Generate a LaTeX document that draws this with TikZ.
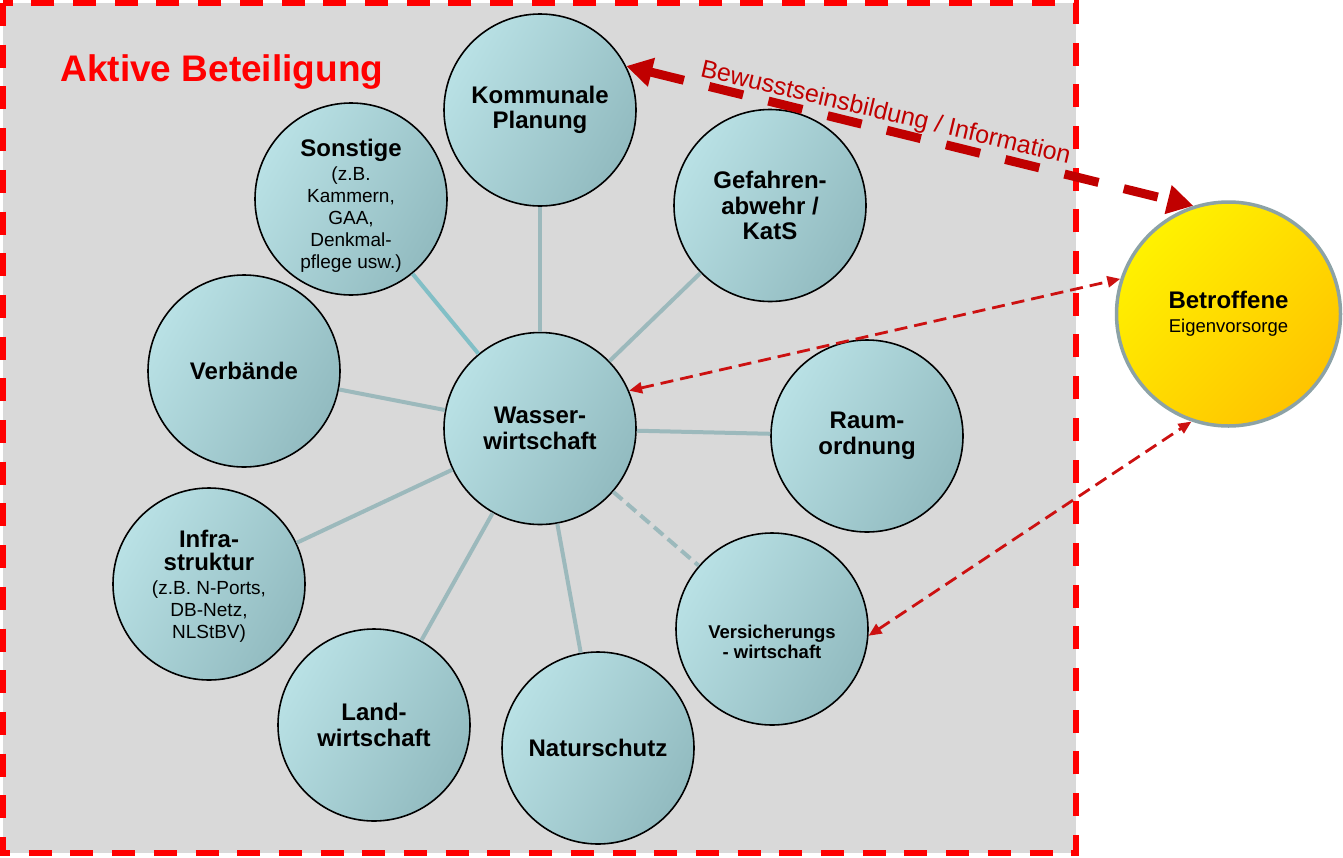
\documentclass[tikz,border=0pt]{standalone}
\usepackage{fontspec}
\setmainfont{Liberation Sans}
\usetikzlibrary{arrows.meta}
\definecolor{bggray}{HTML}{D9D9D9}
\definecolor{cyanL}{HTML}{B9E1E5}
\definecolor{cyanD}{HTML}{92BBC0}
\definecolor{conn}{HTML}{9CB9BC}
\definecolor{connT}{HTML}{82BFC6}
\definecolor{darkred}{HTML}{C00000}
\definecolor{thinred}{HTML}{CC1111}
\definecolor{yelL}{HTML}{FFF200}
\definecolor{yelD}{HTML}{FFC400}
\definecolor{ringgray}{HTML}{8CA2A6}
\definecolor{borderred}{HTML}{FF0000}
\newcommand{\smtxt}{\fontsize{19}{22}\selectfont\mdseries}
\newcommand{\bftxt}{\fontsize{24}{25.5}\selectfont\bfseries}
\begin{document}
\begin{tikzpicture}[x=1pt,y=-1pt,
  blob/.style={circle, draw=black, line width=1.6pt, minimum size=192pt, inner sep=0pt,
    align=center, left color=cyanL, right color=cyanD, shading angle=60, font=\bftxt},
  mixtext/.style={align=center, font=\smtxt},
  link/.style={draw=conn, line width=4pt},
  bigarrow/.style={draw=darkred, line width=9pt, dash pattern=on 35pt off 26pt,
    {Triangle[length=26pt,width=28pt]}-{Triangle[length=26pt,width=28pt]}},
  thinarrow/.style={draw=thinred, line width=2.8pt, dash pattern=on 13pt off 7pt,
    {Triangle[length=13pt,width=11pt]}-{Triangle[length=13pt,width=11pt]}}]
\useasboundingbox (0,0) rectangle (1343,857);
\fill[bggray] (3,3) rectangle (1076,853);
\draw[borderred, line width=6pt, dash pattern=on 23pt off 18.7pt] (3,3) rectangle (1076,853);

\node[anchor=base west, text=borderred, font=\fontsize{37}{37}\selectfont\bfseries] (title) at (57,81) {Aktive Beteiligung};

\node[blob] (w) at (540,428.5) {Wasser-\\wirtschaft};
\node[blob] (k) at (540,110) {Kommunale\\Planung};
\node[blob] (s) at (351,199) {};
\node[mixtext] (st) at (351,206) {{\bftxt Sonstige}\\[2pt](z.B.\\Kammern,\\GAA,\\Denkmal-\\pflege usw.)};
\node[blob] (g) at (770,205.5) {Gefahren-\\abwehr /\\KatS};
\node[blob] (vb) at (244,371) {Verbände};
\node[blob] (r) at (867,436) {Raum-\\ordnung};
\node[blob] (i) at (209,584) {};
\node[mixtext] (it) at (209,586) {{\bftxt Infra-}\\[1pt]{\bftxt struktur}\\[2pt](z.B. N-Ports,\\DB-Netz,\\NLStBV)};
\node[blob] (l) at (374,725) {Land-\\wirtschaft};
\node[blob] (n) at (598,748) {Naturschutz};
\node[blob] (v) at (772,629) {};
\node[align=center, font=\fontsize{18.5}{20}\selectfont\bfseries] (vt) at (772,642) {Versicherungs\\- wirtschaft};

\node[circle, draw=ringgray, line width=3.5pt, minimum size=224pt, inner sep=0pt, align=center,
  left color=yelL, right color=yelD, shading angle=45, font=\fontsize{18.5}{24}\selectfont] (b) at (1228.5,314)
  {{\fontsize{24}{24}\selectfont\bfseries Betroffene}\\Eigenvorsorge};

\draw[link] (w) -- (k);
\draw[link, draw=connT] (w) -- (s);
\draw[link] (w) -- (g);
\draw[link] (w) -- (vb);
\draw[link] (w) -- (r);
\draw[link] (w) -- (i);
\draw[link] (w) -- (l);
\draw[link] (w) -- (n);
\draw[link, dash pattern=on 12pt off 6pt] (w) -- (v);

\draw[bigarrow] (k.27) -- (b.108);
\node[rotate=-13.4, anchor=base, text=darkred, font=\fontsize{25}{25}\selectfont] (bt) at (884,120) {Bewusstseinsbildung / Information};

\draw[thinarrow] (w.23) -- (b.162);
\draw[thinarrow] (v.-4) -- (b.251);
\end{tikzpicture}
\end{document}
